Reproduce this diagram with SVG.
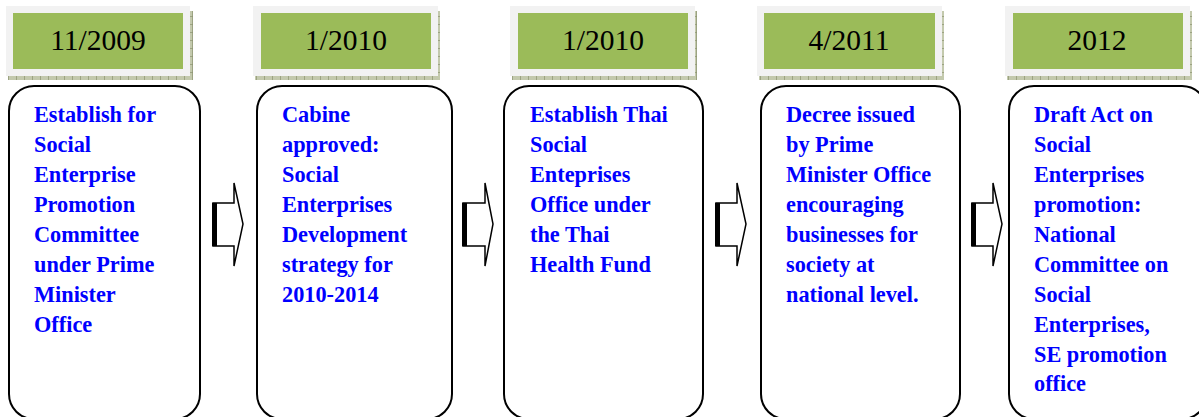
<svg xmlns="http://www.w3.org/2000/svg" width="1199" height="417" viewBox="0 0 1199 417">
<style>
.shadow{fill:url(#grid)}
.outer{fill:#f2f2f2}
.inner{fill:#9bbb59}
.date{font-family:"Liberation Serif",serif;font-size:29.5px;fill:#000;text-anchor:middle}
.card{fill:#fff;stroke:#000;stroke-width:2}
.txt{font-family:"Liberation Serif",serif;font-size:22.3px;font-weight:bold;fill:#0000ff}
.arrow{fill:#fff;stroke:#000;stroke-width:1.5;stroke-linejoin:miter}
.bar{fill:#000}
</style>
<defs>
<pattern id="grid" width="8" height="8" patternUnits="userSpaceOnUse">
<rect width="8" height="8" fill="#c3c9ad"/>
<path d="M0 0.5H8M0.5 0V8" stroke="#8b9270" stroke-width="0.7"/>
</pattern>
</defs>
<g id="node1">
<rect class="shadow" x="8" y="11" width="185" height="69"/>
<rect class="outer" x="6" y="6" width="184" height="70"/>
<rect class="inner" x="13" y="13" width="170" height="56"/>
<text class="date" x="98" y="50">11/2009</text>
<rect class="card" x="9" y="86" width="191" height="333" rx="25"/>
<text class="txt"><tspan x="34" y="122">Establish for</tspan><tspan x="34" y="152">Social</tspan><tspan x="34" y="182">Enterprise</tspan><tspan x="34" y="212">Promotion</tspan><tspan x="34" y="242">Committee</tspan><tspan x="34" y="272">under Prime</tspan><tspan x="34" y="302">Minister</tspan><tspan x="34" y="332">Office</tspan></text>
</g>
<g id="node2">
<rect class="shadow" x="255" y="11" width="185" height="69"/>
<rect class="outer" x="253" y="6" width="185" height="70"/>
<rect class="inner" x="261" y="13" width="170" height="56"/>
<text class="date" x="346" y="50">1/2010</text>
<rect class="card" x="257" y="86" width="195" height="333" rx="25"/>
<text class="txt"><tspan x="282" y="122">Cabine</tspan><tspan x="282" y="152">approved:</tspan><tspan x="282" y="182">Social</tspan><tspan x="282" y="212">Enterprises</tspan><tspan x="282" y="242">Development</tspan><tspan x="282" y="272">strategy for</tspan><tspan x="282" y="302">2010-2014</tspan></text>
</g>
<g id="node3">
<rect class="shadow" x="512" y="11" width="185" height="69"/>
<rect class="outer" x="510" y="6" width="185" height="70"/>
<rect class="inner" x="518" y="13" width="170" height="56"/>
<text class="date" x="603" y="50">1/2010</text>
<rect class="card" x="504" y="86" width="199" height="333" rx="25"/>
<text class="txt"><tspan x="530" y="122">Establish Thai</tspan><tspan x="530" y="152">Social</tspan><tspan x="530" y="182">Enteprises</tspan><tspan x="530" y="212">Office under</tspan><tspan x="530" y="242">the Thai</tspan><tspan x="530" y="272">Health Fund</tspan></text>
</g>
<g id="node4">
<rect class="shadow" x="759" y="11" width="185" height="69"/>
<rect class="outer" x="757" y="6" width="185" height="70"/>
<rect class="inner" x="764" y="13" width="171" height="56"/>
<text class="date" x="849" y="50">4/2011</text>
<rect class="card" x="761" y="86" width="199" height="333" rx="25"/>
<text class="txt"><tspan x="786" y="122">Decree issued</tspan><tspan x="786" y="152">by Prime</tspan><tspan x="786" y="182">Minister Office</tspan><tspan x="786" y="212">encouraging</tspan><tspan x="786" y="242">businesses for</tspan><tspan x="786" y="272">society at</tspan><tspan x="786" y="302">national level.</tspan></text>
</g>
<g id="node5">
<rect class="shadow" x="1007" y="11" width="185" height="69"/>
<rect class="outer" x="1005" y="6" width="185" height="70"/>
<rect class="inner" x="1013" y="13" width="170" height="56"/>
<text class="date" x="1097" y="50">2012</text>
<rect class="card" x="1009" y="86" width="198" height="333" rx="25"/>
<text class="txt"><tspan x="1034" y="122">Draft Act on</tspan><tspan x="1034" y="152">Social</tspan><tspan x="1034" y="182">Enterprises</tspan><tspan x="1034" y="212">promotion:</tspan><tspan x="1034" y="242">National</tspan><tspan x="1034" y="272">Committee on</tspan><tspan x="1034" y="302">Social</tspan><tspan x="1034" y="332">Enterprises,</tspan><tspan x="1034" y="362">SE promotion</tspan><tspan x="1034" y="391">office</tspan></text>
</g>
<g id="connectors">
<path class="arrow" d="M213 203H234V183L243 224L234 266V246H213Z"/>
<rect class="bar" x="212" y="203" width="5" height="43"/>
<path class="arrow" d="M463 203H485V183L493 224L485 266V246H463Z"/>
<rect class="bar" x="462" y="203" width="5" height="43"/>
<path class="arrow" d="M716 203H737V183L746 224L737 266V246H716Z"/>
<rect class="bar" x="715" y="203" width="5" height="43"/>
<path class="arrow" d="M972 203H993V183L1002 224L993 266V246H972Z"/>
<rect class="bar" x="971" y="203" width="5" height="43"/>
</g>
</svg>
